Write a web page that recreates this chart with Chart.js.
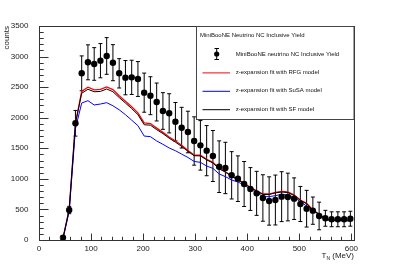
<!DOCTYPE html>
<html>
<head>
<meta charset="utf-8">
<script src="https://cdn.jsdelivr.net/npm/chart.js@4.4.0/dist/chart.umd.min.js"></script>
<style>
  html, body { margin: 0; padding: 0; background: #fff; }
  #wrap { width: 394px; height: 267px; }
</style>
</head>
<body>
<div id="wrap"><canvas id="chart" width="394" height="267"></canvas></div>
<script>
// --- DATA ---
const energies = [46, 58, 70, 82, 94, 106, 118, 130, 142, 154, 166, 178, 190, 202, 214, 226, 238, 250, 262, 274,
  286, 298, 310, 322, 334, 346, 358, 370, 382, 394, 406, 418, 430, 442, 454, 466, 478, 490, 502, 514,
  526, 538, 550, 562, 574, 586, 598];
const yieldData = [38, 490, 1909, 2726, 2906, 2879, 2933, 3010, 2900, 2726, 2655, 2660, 2633, 2410, 2360, 2257, 2110, 2072, 1935, 1837,
  1766, 1619, 1548, 1461, 1374, 1199, 1178, 1058, 1003, 916, 834, 763, 687, 638, 654, 709, 703, 676, 589, 512,
  480, 393, 355, 339, 339, 339, 348];
const yieldErr = [20, 60, 210, 285, 286, 267, 280, 300, 295, 240, 280, 280, 285, 320, 310, 310, 300, 320, 314, 333,
  340, 395, 405, 410, 417, 422, 420, 387, 373, 368, 350, 360, 380, 395, 408, 408, 390, 340, 287, 300,
  223, 226, 130, 122, 122, 122, 122];
const rfgFit = [25, 500, 1910, 2430, 2500, 2455, 2462, 2505, 2460, 2360, 2270, 2180, 2080, 1915, 1905, 1830, 1760, 1685, 1620, 1550,
  1465, 1390, 1388, 1320, 1270, 1172, 1117, 1047, 992, 927, 862, 806, 752, 752, 779, 796, 785, 736, 654, 600,
  490, 425, 343, 325, 322, 320, 318];
const susaFit = [20, 470, 1820, 2240, 2279, 2208, 2224, 2246, 2195, 2130, 2050, 1960, 1870, 1700, 1690, 1620, 1565, 1505, 1460, 1405,
  1350, 1285, 1270, 1210, 1172, 1080, 1036, 981, 949, 900, 829, 779, 709, 709, 725, 747, 736, 698, 627, 556,
  490, 409, 338, 318, 316, 315, 314];
const sfFit = [25, 500, 1905, 2400, 2465, 2425, 2430, 2470, 2425, 2330, 2240, 2150, 2050, 1885, 1878, 1805, 1740, 1665, 1600, 1530,
  1450, 1378, 1376, 1310, 1260, 1165, 1110, 1040, 985, 920, 855, 800, 745, 745, 770, 785, 776, 728, 648, 594,
  487, 420, 340, 322, 320, 318, 316];
const xTicks = [0, 100, 200, 300, 400, 500, 600];
const yTicks = [0, 500, 1000, 1500, 2000, 2500, 3000, 3500];

const legendHeader = "MiniBooNE Neutrino NC Inclusive Yield";
const legendItems = [
  { label: "MiniBooNE neutrino NC Inclusive Yield", kind: "marker", color: "#000" },
  { label: "z-expansion fit with RFG model", kind: "line", color: "#ff0000" },
  { label: "z-expansion fit with SuSA model", kind: "line", color: "#0000ff" },
  { label: "z-expansion fit with SF model", kind: "line", color: "#000000" }
];

const FONT = '"Liberation Sans", Arial, Helvetica, sans-serif';

function pts(vals) {
  return energies.map((x, i) => ({ x: x, y: vals[i] }));
}

// --- ROOT-like decorations: error bars, frame, inner ticks, titles, legend ---
const rootStyle = {
  id: 'rootStyle',
  beforeDatasetsDraw(chart) {
    const ctx = chart.ctx;
    const xs = chart.scales.x, ys = chart.scales.y;
    ctx.save();
    ctx.strokeStyle = '#000';
    ctx.lineWidth = 1;
    energies.forEach((e, i) => {
      const px = xs.getPixelForValue(e);
      const top = ys.getPixelForValue(yieldData[i] + yieldErr[i]);
      const bot = ys.getPixelForValue(Math.max(0, yieldData[i] - yieldErr[i]));
      ctx.beginPath();
      ctx.moveTo(px, top); ctx.lineTo(px, bot);
      ctx.moveTo(px - 2, top); ctx.lineTo(px + 2, top);
      ctx.moveTo(px - 2, bot); ctx.lineTo(px + 2, bot);
      ctx.stroke();
    });
    ctx.restore();
  },
  afterDraw(chart) {
    const ctx = chart.ctx;
    const a = chart.chartArea;
    const xs = chart.scales.x, ys = chart.scales.y;
    ctx.save();
    // frame
    ctx.strokeStyle = '#333';
    ctx.lineWidth = 1;
    ctx.strokeRect(Math.round(a.left) + 0.5, Math.round(a.top) + 0.5,
      Math.round(a.right - a.left), Math.round(a.bottom - a.top));
    // ticks
    ctx.beginPath();
    for (let v = 0; v <= 3500; v += 100) {
      const py = Math.round(ys.getPixelForValue(v)) + 0.5;
      const len = v % 500 === 0 ? 9.5 : 4.7;
      ctx.moveTo(a.left, py); ctx.lineTo(a.left + len, py);
    }
    for (let v = 0; v <= 600; v += 20) {
      const px = Math.round(xs.getPixelForValue(v)) + 0.5;
      const len = v % 100 === 0 ? 6.4 : 3.2;
      ctx.moveTo(px, a.bottom); ctx.lineTo(px, a.bottom - len);
    }
    ctx.stroke();

    // axis titles
    ctx.fillStyle = '#222';
    ctx.font = '8px ' + FONT;
    ctx.textBaseline = 'middle';
    ctx.save();
    ctx.translate(6.5, a.top);
    ctx.rotate(-Math.PI / 2);
    ctx.textAlign = 'right';
    ctx.fillText('counts', 0, 0);
    ctx.restore();

    ctx.textAlign = 'left';
    ctx.textBaseline = 'alphabetic';
    const tail = ' (MeV)';
    ctx.font = '8px ' + FONT;
    const wT = ctx.measureText('T').width;
    const wTail = ctx.measureText(tail).width;
    ctx.font = '5px ' + FONT;
    const wN = ctx.measureText('N').width;
    let tx = a.right - (wT + wN + wTail);
    const base = 258;
    ctx.font = '8px ' + FONT;
    ctx.fillText('T', tx, base);
    ctx.font = '5px ' + FONT;
    ctx.fillText('N', tx + wT, base + 1.5);
    ctx.font = '8px ' + FONT;
    ctx.fillText(tail, tx + wT + wN, base);

    // legend
    const lx = 196.5, ly = 26.5, lw = 157.5, lh = 93;
    ctx.fillStyle = '#fff';
    ctx.fillRect(lx, ly, lw, lh);
    ctx.strokeStyle = '#444';
    ctx.strokeRect(lx, ly, lw, lh);
    ctx.fillStyle = '#111';
    ctx.font = '6px ' + FONT;
    ctx.textAlign = 'left';
    ctx.textBaseline = 'middle';
    ctx.fillText(legendHeader, 200, 35);
    legendItems.forEach((it, i) => {
      const cy = 54 + i * 18.4;
      if (it.kind === 'marker') {
        ctx.strokeStyle = '#000';
        ctx.beginPath();
        ctx.moveTo(216.7, cy - 5.5); ctx.lineTo(216.7, cy + 5.5);
        ctx.moveTo(214.5, cy - 5.5); ctx.lineTo(219, cy - 5.5);
        ctx.moveTo(214.5, cy + 5.5); ctx.lineTo(219, cy + 5.5);
        ctx.stroke();
        ctx.fillStyle = '#000';
        ctx.beginPath();
        ctx.arc(216.7, cy, 2.6, 0, Math.PI * 2);
        ctx.fill();
      } else {
        ctx.strokeStyle = it.color;
        ctx.lineWidth = 1;
        ctx.beginPath();
        ctx.moveTo(202.5, cy + 0.5); ctx.lineTo(230, cy + 0.5);
        ctx.stroke();
      }
      ctx.fillStyle = '#111';
      ctx.fillText(it.label, 235.7, cy);
    });
    ctx.restore();
  }
};

const ctx = document.getElementById('chart').getContext('2d');
new Chart(ctx, {
  type: 'scatter',
  data: {
    datasets: [
      { label: 'data', data: pts(yieldData), backgroundColor: '#000', borderColor: '#000',
        pointRadius: 3.2, pointHoverRadius: 3.2, borderWidth: 0, showLine: false },
      { label: 'SF', data: pts(sfFit), borderColor: '#000', borderWidth: 1, pointRadius: 0, showLine: true, tension: 0 },
      { label: 'SuSA', data: pts(susaFit), borderColor: '#0000ff', borderWidth: 1, pointRadius: 0, showLine: true, tension: 0 },
      { label: 'RFG', data: pts(rfgFit), borderColor: '#ff0000', borderWidth: 1.3, pointRadius: 0, showLine: true, tension: 0 }
    ]
  },
  options: {
    responsive: false,
    animation: false,
    layout: { padding: { top: 26, right: 40, left: 0, bottom: 0 } },
    plugins: { legend: { display: false }, tooltip: { enabled: false } },
    scales: {
      x: {
        type: 'linear', min: 0, max: 605,
        afterFit: s => { s.height = 27; },
        afterBuildTicks: s => { s.ticks = xTicks.map(v => ({ value: v })); },
        grid: { display: false }, border: { display: false },
        ticks: { font: { size: 8, family: FONT }, color: '#222', padding: -4, maxRotation: 0, autoSkip: false,
          callback: v => String(v) }
      },
      y: {
        type: 'linear', min: 0, max: 3500,
        afterFit: s => { s.width = 39; },
        afterBuildTicks: s => { s.ticks = yTicks.map(v => ({ value: v })); },
        grid: { display: false }, border: { display: false },
        ticks: { font: { size: 8, family: FONT }, color: '#222', padding: 2.5, autoSkip: false,
          callback: v => String(v) }
      }
    }
  },
  plugins: [rootStyle]
});
</script>
</body>
</html>
